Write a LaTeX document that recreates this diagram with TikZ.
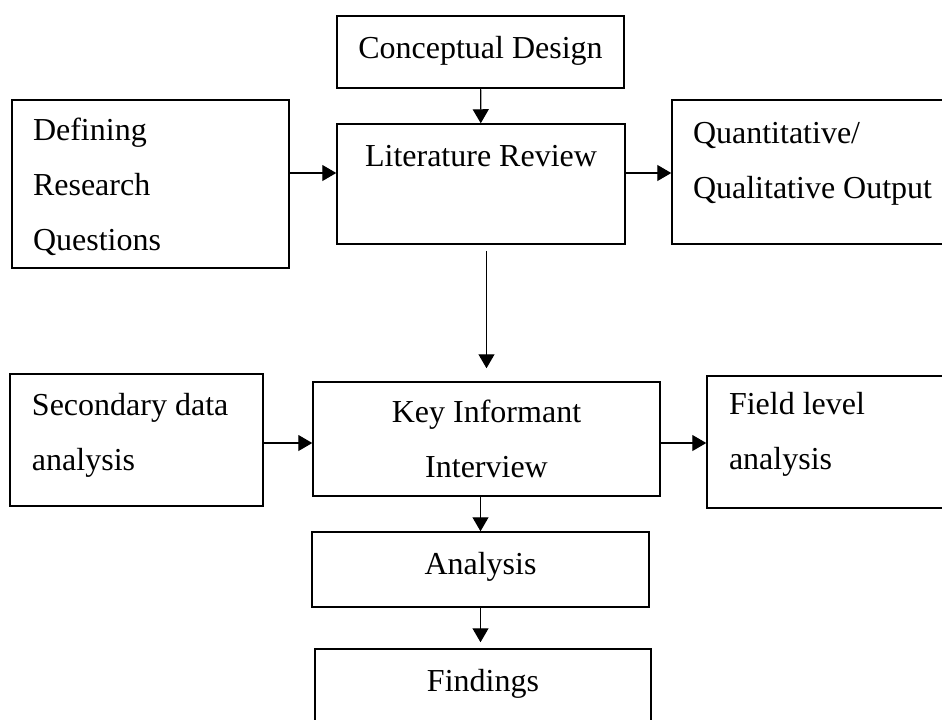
\documentclass[tikz,border=0pt]{standalone}
\usepackage{fontspec}
\setmainfont{Liberation Serif}
\usetikzlibrary{arrows.meta}
\begin{document}
\begin{tikzpicture}[x=0.5pt, y=-0.5pt, line width=0.75pt,
    main/.style = {draw, rectangle, inner ysep=0pt, font=\fontsize{16}{27.5}\selectfont},
    side/.style = {main, inner xsep=10.5pt},
    arr/.style = {-{Triangle[length=7pt,width=8pt]}, line width=0.6pt}]
    \clip (0,0) rectangle (942,719);
    \node[main, minimum width=143.5pt, minimum height=36pt] (1) at (480.5,52) {\begin{tabular}{@{}c@{}}Conceptual Design\\[5pt]\end{tabular}};
    \node[main, minimum width=144pt, minimum height=60pt] (2) at (481,184) {\begin{tabular}{@{}c@{}}Literature Review\\[29pt]\end{tabular}};
    \node[side, minimum width=138.5pt, minimum height=84pt] (3) at (150.5,184) {\begin{tabular}{@{}p{117.5pt}@{}}Defining\\Research\\Questions\end{tabular}};
    \node[side, minimum width=145pt, minimum height=72pt] (4) at (817,172) {\begin{tabular}{@{}p{124pt}@{}}Quantitative/\\Qualitative Output\\[12.5pt]\end{tabular}};
    \node[side, inner xsep=11pt, minimum width=126.5pt, minimum height=66pt] (5) at (136.5,440) {\begin{tabular}{@{}p{104.5pt}@{}}Secondary data\\analysis\\[8.5pt]\end{tabular}};
    \node[main, minimum width=173.5pt, minimum height=57pt] (6) at (486.5,439) {\begin{tabular}{@{}c@{}}Key Informant\\Interview\end{tabular}};
    \node[side, inner xsep=11pt, minimum width=127.5pt, minimum height=66pt] (7) at (834.5,442) {\begin{tabular}{@{}p{105.5pt}@{}}Field level\\analysis\\[11pt]\end{tabular}};
    \node[main, minimum width=168.5pt, minimum height=37.5pt] (8) at (480.5,569.5) {\begin{tabular}{@{}c@{}}Analysis\\[6.5pt]\end{tabular}};
    \node[main, minimum width=168pt, minimum height=45pt] (9) at (483,694) {\begin{tabular}{@{}c@{}}Findings\\[14pt]\end{tabular}};
    %Arrows
    \draw[arr] (1) -- (2);
    \draw[arr] ([yshift=5.5pt]3.east) -- ([yshift=5.5pt]3.east -| 2.west);
    \draw[arr] ([yshift=5.5pt]2.east) -- ([yshift=5.5pt]2.east -| 4.west);
    \draw[arr] ([yshift=-3pt]2.south -| 6.north) -- ([yshift=6.5pt]6.north);
    \draw[arr] ([yshift=-1.5pt]5.east) -- ([yshift=-1.5pt]5.east -| 6.west);
    \draw[arr] ([yshift=-2pt]6.east) -- ([yshift=-2pt]6.east -| 7.west);
    \draw[arr] (6.south -| 8.north) -- (8.north);
    \draw[arr] (8.south) -- ([yshift=3pt]9.north -| 8.south);
\end{tikzpicture}
\end{document}
